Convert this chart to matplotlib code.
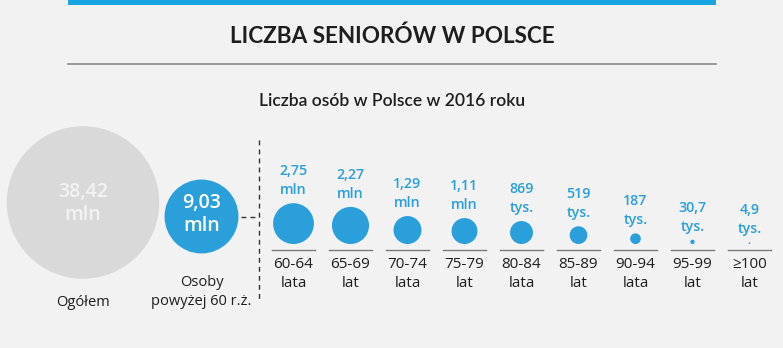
import matplotlib

matplotlib.use("Agg")

import matplotlib.pyplot as plt
from matplotlib.patches import Circle, Rectangle

plt.rcParams["font.family"] = ["Open Sans", "DejaVu Sans"]

# population in 2016
total_num, total_unit = 38.42, "mln"
seniors_num, seniors_unit = 9.03, "mln"

age_groups = ["60-64", "65-69", "70-74", "75-79", "80-84", "85-89", "90-94", "95-99", "≥100"]
age_suffix = ["lata", "lat", "lata", "lat", "lata", "lat", "lata", "lat", "lat"]
group_nums = [2.75, 2.27, 1.29, 1.11, 869, 519, 187, 30.7, 4.9]
group_units = ["mln", "mln", "mln", "mln", "tys.", "tys.", "tys.", "tys.", "tys."]

BLUE = "#2a9fd9"
BAR_BLUE = "#17a6e3"
GREY = "#d9d9d9"
BG = "#f2f2f2"
INK = "#1e1e1e"

R_SCALE = 12.3  # px of radius per sqrt(mln)


def to_mln(num, unit):
    return num if unit == "mln" else num / 1000.0


def fmt(num):
    s = f"{num:g}"
    return s.replace(".", ",")


def radius(num, unit):
    return R_SCALE * to_mln(num, unit) ** 0.5


fig = plt.figure(figsize=(7.83, 3.48), dpi=100, facecolor=BG)
ax = fig.add_axes([0, 0, 1, 1])
ax.set_xlim(0, 783)
ax.set_ylim(348, 0)
ax.set_facecolor(BG)
ax.axis("off")

# header
ax.add_patch(Rectangle((68, 0), 648, 5, color=BAR_BLUE, lw=0))
ax.text(392, 43, "LICZBA SENIORÓW W POLSCE", ha="center", va="baseline",
        fontsize=16.2, fontweight="bold", color=INK, family=["Lato", "DejaVu Sans"])
ax.plot([68, 716], [64, 64], color="#8a8a8a", lw=1.2)
ax.text(392, 106, "Liczba osób w Polsce w 2016 roku", ha="center", va="baseline",
        fontsize=12.6, fontweight="semibold", color=INK, family=["Lato", "DejaVu Sans"])

# total population
r0 = radius(total_num, total_unit)
ax.add_patch(Circle((83, 202.5), r0, color=GREY, lw=0))
ax.text(83, 197, fmt(total_num), ha="center", va="baseline", fontsize=14,
        fontweight="semibold", color="#f3f3f3")
ax.text(83, 220, total_unit, ha="center", va="baseline", fontsize=14,
        fontweight="semibold", color="#f3f3f3")
ax.text(83, 306, "Ogółem", ha="center", va="baseline", fontsize=10.5, color=INK)

# 60+
r1 = radius(seniors_num, seniors_unit)
ax.add_patch(Circle((201.5, 216.5), r1, color=BLUE, lw=0))
ax.text(201.5, 208, fmt(seniors_num), ha="center", va="baseline", fontsize=14,
        fontweight="semibold", color="white")
ax.text(201.5, 231, seniors_unit, ha="center", va="baseline", fontsize=14,
        fontweight="semibold", color="white")
ax.text(201.5, 286, "Osoby", ha="center", va="baseline", fontsize=10.5, color=INK)
ax.text(201.5, 305, "powyżej 60 r.ż.", ha="center", va="baseline", fontsize=10.5, color=INK)

# connector
ax.plot([241, 258.5], [216.5, 216.5], color="#333333", lw=1, dashes=(3.5, 3))
ax.plot([258.5, 258.5], [140, 302], color="#333333", lw=1, dashes=(3.5, 3))

# age groups
base_y = 244
for i, (grp, suf, num, unit) in enumerate(zip(age_groups, age_suffix, group_nums, group_units)):
    cx = 293.5 + 57 * i
    r = radius(num, unit)
    ax.add_patch(Circle((cx, base_y - r), r, color=BLUE, lw=0))
    top = base_y - 2 * r
    ax.text(cx, top - 9, unit, ha="center", va="baseline", fontsize=10.3,
            fontweight="semibold", color=BLUE)
    ax.text(cx, top - 28, fmt(num), ha="center", va="baseline", fontsize=10.3,
            fontweight="semibold", color=BLUE)
    ax.plot([cx - 21.5, cx + 21.5], [250, 250], color="#7a7a7a", lw=1)
    ax.text(cx, 268, grp, ha="center", va="baseline", fontsize=11, color=INK)
    ax.text(cx, 287, suf, ha="center", va="baseline", fontsize=11, color=INK)

fig.savefig("out.png", dpi=100, facecolor=BG)
